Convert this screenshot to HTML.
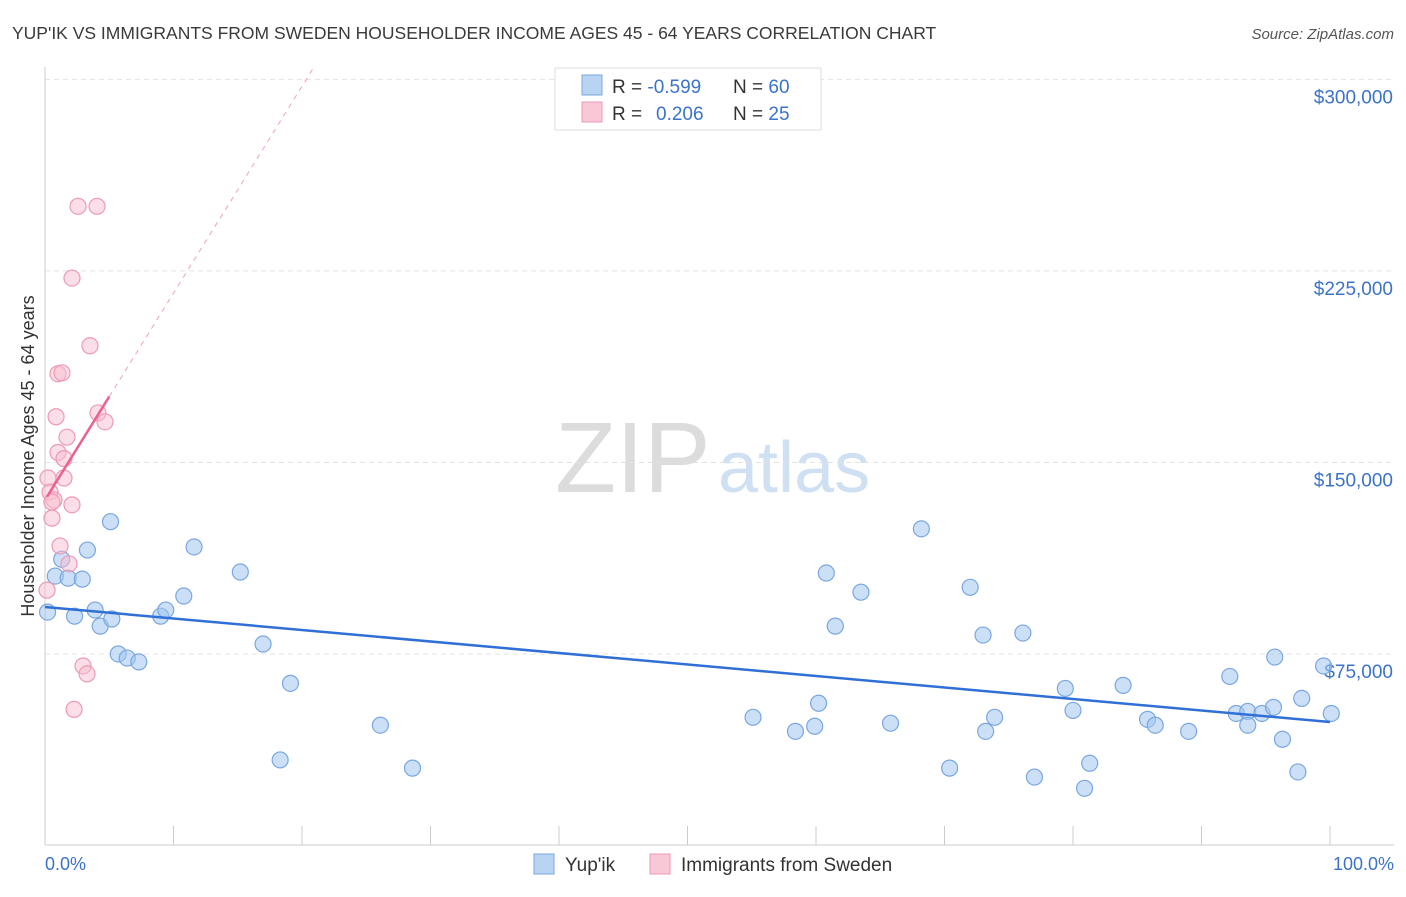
<!DOCTYPE html>
<html><head><meta charset="utf-8"><style>
body{margin:0;background:#fff;font-family:"Liberation Sans",sans-serif;}
svg text{font-family:"Liberation Sans",sans-serif;}
</style></head><body>
<svg id="chart" width="1406" height="892" xmlns="http://www.w3.org/2000/svg">
<text x="12" y="39" font-size="17.5" fill="#3a3a3a">YUP'IK VS IMMIGRANTS FROM SWEDEN HOUSEHOLDER INCOME AGES 45 - 64 YEARS CORRELATION CHART</text>
<text x="1394" y="39" font-size="15" fill="#555" font-style="italic" text-anchor="end">Source: ZipAtlas.com</text>
<text x="555" y="492" font-size="100" fill="#dcdcdc" font-family="Liberation Serif">ZIP</text>
<text x="718" y="492" font-size="72" fill="#cfe0f3">atlas</text>
<g id="grid"></g>
<line x1="45" y1="67" x2="45" y2="845" stroke="#ccc"/>
<line x1="45" y1="845" x2="1394" y2="845" stroke="#ccc"/>
<g id="xticks"></g>
<text x="45" y="870" font-size="18" fill="#3b73c9">0.0%</text>
<text x="1394" y="870" font-size="18" fill="#3b73c9" text-anchor="end">100.0%</text>
<text transform="translate(34,456) rotate(-90)" font-size="18" fill="#333" text-anchor="middle">Householder Income Ages 45 - 64 years</text>
<g id="marks"></g>
<g>
<rect x="555" y="68" width="266" height="62" fill="#fff" stroke="#ddd"/>
<rect x="582" y="75" width="20" height="20" fill="#b9d3f3" stroke="#7aa7e0"/>
<rect x="582" y="102" width="20" height="20" fill="#f9c8d7" stroke="#ee9ab5"/>
<text x="612" y="93" font-size="19" fill="#333">R = <tspan fill="#3b73c9">-0.599</tspan><tspan x="733">N = </tspan><tspan fill="#3b73c9">60</tspan></text>
<text x="612" y="120" font-size="19" fill="#333">R = <tspan fill="#3b73c9" x="656">0.206</tspan><tspan x="733">N = </tspan><tspan fill="#3b73c9">25</tspan></text>
</g>
<g>
<rect x="534" y="854" width="20" height="20" fill="#b9d3f3" stroke="#7aa7e0"/>
<text x="565" y="871" font-size="19" fill="#333">Yup'ik</text>
<rect x="650" y="854" width="20" height="20" fill="#f9c8d7" stroke="#ee9ab5"/>
<text x="681" y="871" font-size="19" fill="#333">Immigrants from Sweden</text>
</g>
</svg>
<script>
const yTicks=[75000,150000,225000,300000];
const yTickLabels=["$75,000","$150,000","$225,000","$300,000"];
const blueX=[0.2,0.8,1.3,1.8,2.3,2.9,3.3,3.9,4.3,5.1,5.2,5.7,6.4,7.3,9.0,9.4,10.8,11.6,15.2,16.97,18.3,19.1,26.1,28.6,55.1,58.4,59.9,60.2,60.8,61.5,63.5,65.8,68.2,70.4,72.0,73.0,73.2,73.9,76.1,77.0,79.4,80.0,80.9,81.3,83.9,85.8,86.4,89.0,92.2,92.7,93.6,93.6,94.7,95.6,95.7,96.3,97.5,97.8,99.5,100.1];
const blueY=[91400,105500,112100,104700,89800,104300,115700,92200,85900,126800,88700,75000,73400,71900,89800,92200,97700,116900,107100,78900,33500,63500,47100,30300,50200,44700,46700,55700,106700,85900,99200,47900,124000,30300,101100,82400,44700,50200,83200,26800,61500,52900,22400,32200,62700,49400,47100,44700,66200,51700,52500,47100,51700,54100,73800,41600,28800,57600,70300,51700];
const pinkX=[0.16,0.23,0.39,0.54,0.7,0.86,1.01,1.01,1.17,1.32,1.48,1.48,1.71,1.87,2.1,2.1,2.26,2.57,2.96,3.27,3.5,4.05,4.12,4.67,0.54];
const pinkY=[100000,143900,138400,128200,135300,167900,184700,153900,117300,185100,151500,143900,159900,110300,133400,222200,53300,250300,70300,67200,195700,250300,169400,165900,134500];
const blueFit=[93400,48360];
const pinkFit=[135300,8100];
const X=p=>45+p*12.85, Y=v=>845.5-v/391.6;
const ns="http://www.w3.org/2000/svg";
function mk(t,a,p){const e=document.createElementNS(ns,t);for(const k in a)e.setAttribute(k,a[k]);p.appendChild(e);return e;}
const grid=document.getElementById('grid'),marks=document.getElementById('marks'),xt=document.getElementById('xticks');
yTicks.forEach((v,i)=>{
 const l=mk('line',{x1:45,x2:1394,y1:Y(v),y2:Y(v),stroke:'#e2e2e2','stroke-dasharray':'5,4'},grid);
 
 
 const t=mk('text',{x:1393,y:Y(v)+24,'font-size':19,fill:'#3b73c9','text-anchor':'end'},grid);
 t.textContent=yTickLabels[i];
 
 
});
for(let i=0;i<=10;i++){
 const l=mk('line',{x1:X(i*10),x2:X(i*10),y1:826,y2:845,stroke:'#ccc'},xt);
 
 
}
blueX.forEach((x,i)=>{
 const c=mk('circle',{cx:X(x),cy:Y(blueY[i]),r:8,fill:'rgba(160,196,240,0.55)',stroke:'#7aa7e0','stroke-width':1.2},marks);
 
 
});
pinkX.forEach((x,i)=>{
 const c=mk('circle',{cx:X(x),cy:Y(pinkY[i]),r:8,fill:'rgba(248,190,208,0.5)',stroke:'#ee9ab5','stroke-width':1.2},marks);
 
 
});
let l=mk('line',{x1:X(0),y1:Y(blueFit[0]),x2:X(100),y2:Y(blueFit[1]),stroke:'#2f6fd6','stroke-width':2.5},marks);


const pf=x=>pinkFit[0]+pinkFit[1]*x;
l=mk('line',{x1:X(5),y1:Y(pf(5)),x2:X(21),y2:Y(pf(21)),stroke:'#f0a0b8','stroke-width':1,'stroke-dasharray':'5,5'},marks);


l=mk('line',{x1:X(0.16),y1:Y(pf(0.16)),x2:X(5),y2:Y(pf(5)),stroke:'#e8638f','stroke-width':2.5},marks);


</script>
</body></html>
